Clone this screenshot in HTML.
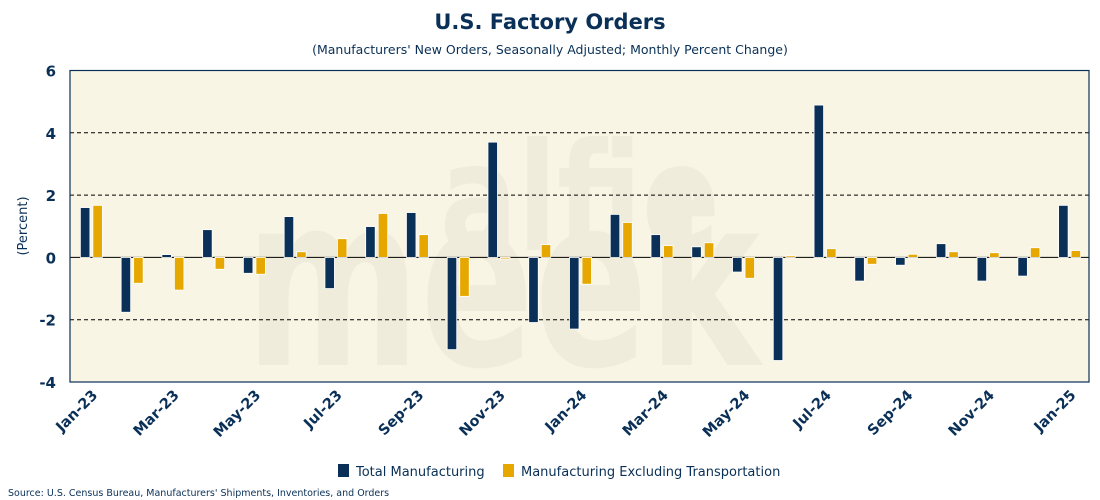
<!DOCTYPE html>
<html><head><meta charset="utf-8"><style>
html,body{margin:0;padding:0;background:#fff;width:1100px;height:500px;overflow:hidden;font-family:"DejaVu Sans","Liberation Sans",sans-serif;}
</style></head><body>
<svg id="chart" width="1100" height="500" xmlns="http://www.w3.org/2000/svg">
<text x="550" y="29" text-anchor="middle" font-size="21" font-weight="bold" fill="#0a3057">U.S. Factory Orders</text>
<text x="550" y="54" text-anchor="middle" font-size="12.5" fill="#0a3057">(Manufacturers' New Orders, Seasonally Adjusted; Monthly Percent Change)</text>
<rect x="70" y="70.5" width="1019" height="311.5" fill="#f8f5e4"/>
<g fill="#f0ecdb" font-weight="bold">
<text x="440" y="250" font-size="150" textLength="280" lengthAdjust="spacingAndGlyphs">alfie</text>
<text x="245" y="365" font-size="240" textLength="515" lengthAdjust="spacingAndGlyphs">meek</text>
</g>
<g id="grid"></g>
<g id="bars"></g>
<rect x="70" y="70.5" width="1019" height="311.5" fill="none" stroke="#0a3057" stroke-width="1.2"/>
<g id="yaxis"></g>
<g id="xaxis"></g>
<text transform="translate(27,226) rotate(-90)" text-anchor="middle" font-size="13" fill="#0a3057">(Percent)</text>
<g>
<g><rect x="338" y="464" width="11" height="13" fill="#0a3057"/><text x="356" y="476" font-size="13" fill="#0a3057">Total Manufacturing</text></g>
<g><rect x="503" y="464" width="11" height="13" fill="#e6a800"/><text x="521" y="476" font-size="13" fill="#0a3057">Manufacturing Excluding Transportation</text></g>
</g>
<text x="8" y="496" font-size="9.5" fill="#0a3057">Source: U.S. Census Bureau, Manufacturers' Shipments, Inventories, and Orders</text>
</svg>
<script>
const categories=["Jan-23","Feb-23","Mar-23","Apr-23","May-23","Jun-23","Jul-23","Aug-23","Sep-23","Oct-23","Nov-23","Dec-23","Jan-24","Feb-24","Mar-24","Apr-24","May-24","Jun-24","Jul-24","Aug-24","Sep-24","Oct-24","Nov-24","Dec-24","Jan-25"];
const totalMfg=[1.60,-1.76,0.09,0.89,-0.51,1.31,-1.00,0.99,1.44,-2.96,3.70,-2.09,-2.30,1.38,0.73,0.34,-0.47,-3.31,4.89,-0.76,-0.25,0.44,-0.76,-0.60,1.67];
const exTransport=[1.67,-0.83,-1.05,-0.38,-0.54,0.18,0.60,1.41,0.73,-1.25,-0.05,0.41,-0.86,1.12,0.38,0.47,-0.67,0.05,0.28,-0.22,0.10,0.18,0.15,0.31,0.22];
const yTicks=[-4,-2,0,2,4,6];
const yMin=-4,yMax=6;
const L=70,R=1089,T=70.5,B=382;
const NS="http://www.w3.org/2000/svg";
const cw=(R-L)/categories.length;
function y(v){return B-(v-yMin)/(yMax-yMin)*(B-T);}
function xc(i){return L+(i+0.5)*cw;}
function mk(tag,attrs,parent){const e=document.createElementNS(NS,tag);for(const k in attrs)e.setAttribute(k,attrs[k]);parent.appendChild(e);return e;}
const grid=document.getElementById('grid'),bars=document.getElementById('bars'),ya=document.getElementById('yaxis'),xa=document.getElementById('xaxis');
yTicks.forEach(t=>{
  if(t>yMin&&t<yMax){
    const ln=mk('line',{x1:L,x2:R,y1:y(t),y2:y(t),stroke:'#000','stroke-width':1,'stroke-dasharray':t===0?'none':'4,3'},grid);
    
    
  }
  const tx=mk('text',{x:56,y:y(t)+6,'text-anchor':'end','font-size':15,'font-weight':'bold',fill:'#0a3057'},ya);
  tx.textContent=t;
  
  
});
categories.forEach((c,i)=>{
  const cx=xc(i);
  const v1=totalMfg[i],v2=exTransport[i];
  const b1=mk('rect',{x:cx-10,width:9.5,y:Math.min(y(v1),y(0)),height:Math.max(Math.abs(y(v1)-y(0)),0.5),fill:'#0a3057',stroke:'#fff','stroke-width':0.8},bars);
  
  
  const b2=mk('rect',{x:cx+2.5,width:9.5,y:Math.min(y(v2),y(0)),height:Math.max(Math.abs(y(v2)-y(0)),0.5),fill:'#e6a800',stroke:'#fff','stroke-width':0.8},bars);
  
  
  if(i%2===0){
    const tx=mk('text',{transform:'translate('+(cx+8)+',396) rotate(-45)','text-anchor':'end','font-size':14.5,'font-weight':'bold',fill:'#0a3057'},xa);
    tx.textContent=c;
    
    
  }
});
</script>
</body></html>
